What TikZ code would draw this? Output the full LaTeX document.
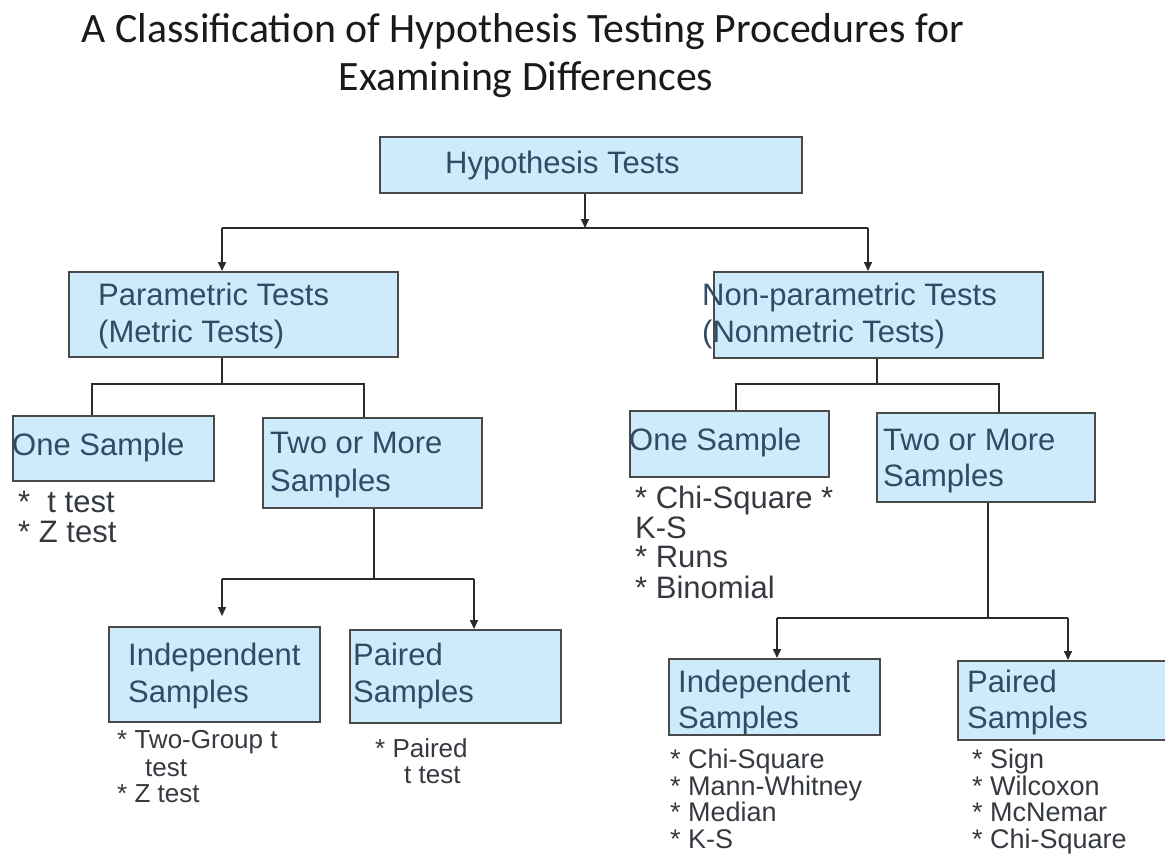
\documentclass[tikz,border=0pt]{standalone}
\usepackage{fontspec}
\setmainfont{Liberation Sans}
\newfontfamily\titlefont{Carlito}
\usetikzlibrary{arrows.meta}
\definecolor{boxfill}{HTML}{CDEBFB}
\definecolor{boxdraw}{HTML}{4A4A4A}
\definecolor{boxtxt}{HTML}{2F4B66}
\definecolor{notetxt}{HTML}{353A40}
\definecolor{linec}{HTML}{2A2A2A}
\definecolor{titletxt}{HTML}{1A1A1A}
\begin{document}
\begin{tikzpicture}[x=1pt,y=-1pt,
  box/.style={draw=boxdraw,fill=boxfill,line width=1.8pt,inner sep=0pt,anchor=north west,rectangle},
  bt/.style={anchor=base west,inner sep=0pt,text=boxtxt,font=\fontsize{31}{37}\selectfont},
  nt/.style={anchor=base west,inner sep=0pt,text=notetxt,font=\fontsize{31}{30}\selectfont},
  ns/.style={anchor=base west,inner sep=0pt,text=notetxt,font=\fontsize{26}{26}\selectfont},
  nm/.style={anchor=base west,inner sep=0pt,text=notetxt,font=\fontsize{27}{27}\selectfont},
  conn/.style={draw=linec,line width=1.6pt},
  arr/.style={conn,-{Triangle[length=9pt,width=8pt]}},
  tt/.style={anchor=base,inner sep=0pt,text=titletxt,font=\titlefont\fontsize{41.8}{48}\selectfont}]

\useasboundingbox[fill=white] (0,0) rectangle (1165,854);

% title
\node[tt] (t1) at (523,42) {A Classification of Hypothesis Testing Procedures for};
\node[tt] (t2) at (526,90) {Examining Differences};

% boxes
\node[box,minimum width=422pt,minimum height=56pt] (hyp)  at (379,136) {};
\node[box,minimum width=329pt,minimum height=85pt] (par)  at (68,271) {};
\node[box,minimum width=329pt,minimum height=86pt] (npar) at (713,271) {};
\node[box,minimum width=201pt,minimum height=65pt] (os1)  at (12,415) {};
\node[box,minimum width=219pt,minimum height=90pt] (tm1)  at (262,417) {};
\node[box,minimum width=199pt,minimum height=66pt] (os2)  at (629,410) {};
\node[box,minimum width=218pt,minimum height=89pt] (tm2)  at (876,412) {};
\node[box,minimum width=211pt,minimum height=95pt] (ind1) at (108,626) {};
\node[box,minimum width=211pt,minimum height=93pt] (pr1)  at (349,629) {};
\node[box,minimum width=211pt,minimum height=76pt] (ind2) at (668,658) {};
\node[box,minimum width=220pt,minimum height=79pt] (pr2)  at (957,660) {};

% junctions
\coordinate (jA) at (585,228); \coordinate (jAL) at (222,228); \coordinate (jAR) at (868,228);
\coordinate (jB) at (222,384); \coordinate (jBL) at (92,384);  \coordinate (jBR) at (364,384);
\coordinate (jC) at (877,384); \coordinate (jCL) at (736,384); \coordinate (jCR) at (999,384);
\coordinate (jD) at (374,579); \coordinate (jDL) at (222,579); \coordinate (jDR) at (474,579);
\coordinate (jE) at (988,618); \coordinate (jEL) at (777,618); \coordinate (jER) at (1068,618);

% level 1
\draw[arr] (hyp.south -| jA) -- (jA);
\draw[conn] (jAL) -- (jAR);
\draw[arr] (jAL) -- (jAL |- par.north);
\draw[arr] (jAR) -- (jAR |- npar.north);

% level 2
\draw[conn] (par.south -| jB) -- (jB);
\draw[conn] (jBL |- os1.north) -- (jBL) -- (jBR) -- (jBR |- tm1.north);
\draw[conn] (npar.south -| jC) -- (jC);
\draw[conn] (jCL |- os2.north) -- (jCL) -- (jCR) -- (jCR |- tm2.north);

% level 3
\draw[conn] (tm1.south -| jD) -- (jD);
\draw[conn] (jDL) -- (jDR);
\draw[arr,shorten >=10pt] (jDL) -- (jDL |- ind1.north);
\draw[arr] (jDR) -- (jDR |- pr1.north);
\draw[conn] (tm2.south -| jE) -- (jE);
\draw[conn] (jEL) -- (jER);
\draw[arr] (jEL) -- (jEL |- ind2.north);
\draw[arr] (jER) -- (jER |- pr2.north);

% box texts
\node[bt] (hypT)   at (445,173) {Hypothesis Tests};
\node[bt] (parT1)  at (98,305)  {Parametric Tests};
\node[bt] (parT2)  at (98,342)  {(Metric Tests)};
\node[bt] (nparT1) at (702,305) {Non-parametric Tests};
\node[bt] (nparT2) at (702,342) {(Nonmetric Tests)};
\node[bt] (os1T)   at (12,455)  {One Sample};
\node[bt] (tm1T1)  at (270,453) {Two or More};
\node[bt] (tm1T2)  at (270,491) {Samples};
\node[bt] (os2T)   at (629,450) {One Sample};
\node[bt] (tm2T1)  at (883,450) {Two or More};
\node[bt] (tm2T2)  at (883,486) {Samples};
\node[bt] (ind1T1) at (128,665) {Independent};
\node[bt] (ind1T2) at (128,702) {Samples};
\node[bt] (pr1T1)  at (353,665) {Paired};
\node[bt] (pr1T2)  at (353,702) {Samples};
\node[bt] (ind2T1) at (678,692) {Independent};
\node[bt] (ind2T2) at (678,728) {Samples};
\node[bt] (pr2T1)  at (967,692) {Paired};
\node[bt] (pr2T2)  at (967,728) {Samples};

% notes
\node[nt] (n11) at (18,512) {*~~t test};
\node[nt] (n12) at (18,542) {* Z test};
\node[nt] (n21) at (635,508) {* Chi-Square *};
\node[nt] (n22) at (635,538) {K-S};
\node[nt] (n23) at (635,567) {* Runs};
\node[nt] (n24) at (635,598) {* Binomial};
\node[ns] (n31) at (117,748) {* Two-Group t};
\node[ns] (n32) at (145,776) {test};
\node[ns] (n33) at (117,802) {* Z test};
\node[ns] (n41) at (375,757) {* Paired};
\node[ns] (n42) at (404,783) {t test};
\node[nm] (n51) at (670,768) {* Chi-Square};
\node[nm] (n52) at (670,795) {* Mann-Whitney};
\node[nm] (n53) at (670,821) {* Median};
\node[nm] (n54) at (670,848) {* K-S};
\node[nm] (n61) at (972,768) {* Sign};
\node[nm] (n62) at (972,795) {* Wilcoxon};
\node[nm] (n63) at (972,821) {* McNemar};
\node[nm] (n64) at (972,848) {* Chi-Square};
\end{tikzpicture}
\end{document}
